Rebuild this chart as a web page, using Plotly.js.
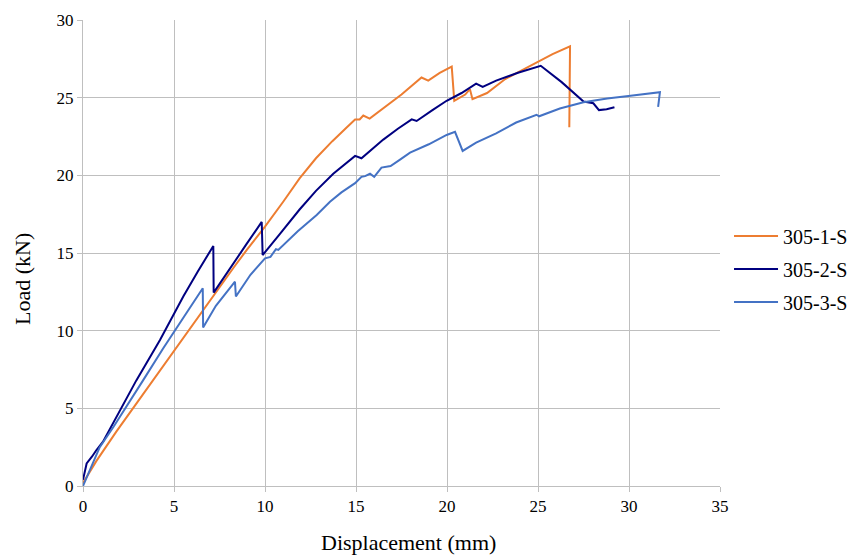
<!DOCTYPE html>
<html>
<head>
<meta charset="utf-8">
<script src="https://cdn.plot.ly/plotly-3.0.1.min.js"></script>
<style>html,body{margin:0;padding:0;background:#fff;}#chart{width:848px;height:555px;}</style>
</head>
<body>
<div id="chart"></div>
<script>
const seriesNames = ["305-1-S", "305-2-S", "305-3-S"];
const seriesColors = ["#ED7D31", "#000080", "#4472C4"];
const xTitle = "Displacement (mm)";
const yTitle = "Load (kN)";

const x1 = [0,0.3,0.73,1.83,2.8,3.85,5,6.4,7.3,8.3,9,10,11,11.9,12.8,13.7,14.5,14.95,15.2,15.4,15.75,16.5,17.5,18.6,18.97,19.6,20.26,20.4,21.0,21.26,21.4,22.2,23.2,24.0,24.96,25.8,26.76,26.72];
const y1 = [0.2,0.8,1.6,3.5,5.1,6.8,8.7,11.0,12.5,14.1,15.2,16.7,18.3,19.8,21.1,22.2,23.1,23.6,23.6,23.85,23.65,24.3,25.2,26.3,26.1,26.6,27.0,24.8,25.2,25.55,24.9,25.3,26.2,26.7,27.3,27.8,28.3,23.1];

const x2 = [0,0.2,0.5,0.73,1.1,2.0,2.93,4.23,5.51,6.3,7.16,7.18,8.0,9.0,9.82,9.87,10.8,11.9,12.8,13.75,14.95,15.3,16.5,17.3,18.06,18.33,19.2,19.98,20.8,21.6,21.96,22.7,23.9,25.15,26.3,27.5,28.04,28.35,28.77,29.2];
const y2 = [0.4,1.45,1.9,2.3,2.85,4.8,6.8,9.4,12.2,13.8,15.45,12.45,13.9,15.6,17.0,14.87,16.2,17.8,19.0,20.1,21.25,21.1,22.3,23.0,23.6,23.5,24.2,24.8,25.3,25.9,25.7,26.1,26.6,27.05,26.0,24.75,24.64,24.2,24.25,24.38];

const x3 = [0,0.3,0.92,1.67,2.5,3.3,4.41,5.5,6.58,6.6,7.3,8.35,8.4,9.2,10.0,10.3,10.6,10.73,11.8,12.84,13.57,14.2,14.95,15.3,15.5,15.77,16.0,16.4,16.9,17.4,17.97,19.0,19.98,20.44,20.86,21.6,22.7,23.8,24.92,25.06,26.2,27.5,28.8,29.97,31.7,31.6];
const y3 = [0,0.8,2.5,3.8,5.3,6.8,8.87,10.8,12.73,10.2,11.6,13.15,12.2,13.6,14.66,14.75,15.25,15.2,16.4,17.45,18.3,18.9,19.5,19.9,19.95,20.1,19.9,20.5,20.6,21.0,21.46,22.0,22.6,22.8,21.57,22.1,22.7,23.4,23.9,23.8,24.3,24.7,24.95,25.1,25.35,24.4];

const xTicks = [0,5,10,15,20,25,30,35];
const yTicks = [0,5,10,15,20,25,30];

const xs = [x1, x2, x3], ys = [y1, y2, y3];
const traces = seriesNames.map((n, i) => ({
  x: xs[i], y: ys[i], name: n, type: "scatter", mode: "lines",
  legendgroup: "g" + i,
  line: {color: seriesColors[i], width: 2}
}));

const font = "'Liberation Serif', 'Times New Roman', 'DejaVu Serif', serif";
const axisCommon = {
  showgrid: true, gridcolor: "#BFBFBF", gridwidth: 1,
  showline: true, linecolor: "#BFBFBF", linewidth: 1,
  zeroline: false, ticks: "outside", ticklen: 5, tickcolor: "#BFBFBF",
  tickfont: {family: font, size: 17, color: "#000"}
};
const layout = {
  width: 848, height: 555,
  margin: {l: 83, r: 128, t: 20, b: 69, autoexpand: false},
  paper_bgcolor: "#fff", plot_bgcolor: "#fff",
  font: {family: font, color: "#000"},
  xaxis: Object.assign({}, axisCommon, {
    range: [0, 35], tickvals: xTicks, ticktext: xTicks.map(String)
  }),
  yaxis: Object.assign({}, axisCommon, {
    range: [0, 30], tickvals: yTicks, ticktext: yTicks.map(String)
  }),
  annotations: [
    {text: xTitle, xref: "paper", yref: "paper", x: 0.511, y: -0.122,
     xanchor: "center", yanchor: "middle", showarrow: false,
     font: {family: font, size: 22, color: "#000"}},
    {text: yTitle, xref: "paper", yref: "paper", x: -0.096, y: 0.444,
     xanchor: "center", yanchor: "middle", showarrow: false, textangle: -90,
     font: {family: font, size: 22, color: "#000"}}
  ],
  showlegend: true,
  legend: {
    xref: "container", yref: "container",
    x: 0.8597, xanchor: "left", y: 0.5153, yanchor: "middle",
    font: {family: font, size: 20, color: "#000"},
    traceorder: "grouped", tracegroupgap: 4, itemwidth: 44,
    bgcolor: "rgba(0,0,0,0)"
  }
};
Plotly.newPlot("chart", traces, layout, {displayModeBar: false, staticPlot: true});
</script>
</body>
</html>
